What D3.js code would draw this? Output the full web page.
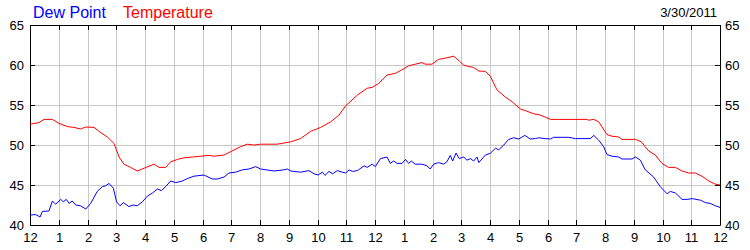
<!DOCTYPE html>
<html>
<head>
<meta charset="utf-8">
<script src="https://cdn.jsdelivr.net/npm/d3@7"></script>
<style>
  body { margin: 0; background: #fff; }
  svg { display: block; }
  text { font-family: "Liberation Sans", Arial, sans-serif; }
</style>
</head>
<body>
<div id="chart"></div>
<script>
// hours since midnight
var tempHours = [0,0.31,0.49,0.78,1.01,1.30,1.53,1.76,1.94,2.23,2.40,2.69,2.92,3.10,3.27,3.50,3.73,3.97,4.31,4.49,4.72,4.89,5.13,5.36,5.65,5.94,6.23,6.40,6.75,7.00,7.33,7.56,7.79,8.02,8.60,9.07,9.41,9.76,10.11,10.46,10.75,10.98,11.39,11.73,
  11.90,12.13,12.42,12.71,12.94,13.17,13.40,13.63,13.75,13.98,14.21,14.50,14.74,14.93,15.08,15.26,15.43,15.61,15.84,16.01,16.24,16.53,16.77,17.06,17.23,17.52,17.70,17.92,18.10,18.39,18.85,19.37,19.43,19.61,19.78,20.07,20.24,20.48,20.59,21.06,21.26,21.52,21.75,21.98,22.21,22.45,22.68,22.91,23.14,23.37,23.61,23.84,24.00];
var tempValues = [52.6,52.8,53.2,53.2,52.7,52.3,52.2,52.0,52.25,52.2,51.7,51.0,50.2,48.5,47.6,47.2,46.75,47.1,47.6,47.2,47.2,47.9,48.2,48.4,48.5,48.6,48.7,48.6,48.75,49.2,49.8,50.1,50.0,50.1,50.1,50.4,50.8,51.7,52.2,52.9,53.75,54.9,56.25,57.1,
  57.2,57.7,58.75,58.96,59.4,59.9,60.1,60.3,60.1,60.1,60.7,60.9,61.1,60.5,60.0,59.8,59.7,59.25,59.2,58.6,56.9,56.0,55.4,54.5,54.3,53.9,53.8,53.5,53.2,53.2,53.2,53.2,53.1,53.2,52.9,51.3,51.1,51.0,50.7,50.7,50.4,49.25,48.75,47.7,47.2,47.2,46.75,46.5,46.5,46.1,45.5,45.1,45.0];

var dewHours = [0,0.20,0.35,0.43,0.66,0.78,0.89,1.07,1.16,1.26,1.36,1.47,1.59,1.76,1.94,2.11,2.34,2.52,2.63,2.75,2.90,3.01,3.13,3.25,3.44,3.59,3.73,3.91,4.08,4.26,4.43,4.57,4.72,4.89,5.07,5.30,5.47,5.70,6.05,6.34,6.52,6.75,6.92,7.15,7.39,7.62,7.85,8.02,8.49,8.84,8.95,9.07,9.41,9.70,9.88,10.02,10.17,10.26,10.40,10.52,10.69,10.86,10.98,11.10,11.21,11.39,11.62,11.73,
  11.90,12.01,12.19,12.42,12.53,12.65,12.77,12.94,13.06,13.17,13.26,13.40,13.63,13.81,13.92,14.04,14.21,14.39,14.50,14.62,14.70,14.82,14.93,15.08,15.20,15.32,15.43,15.55,15.61,15.72,15.84,16.01,16.19,16.30,16.48,16.65,16.82,17.00,17.21,17.40,17.58,17.69,17.92,18.10,18.21,18.74,18.97,19.49,19.61,19.78,19.95,20.07,20.24,20.48,20.59,20.94,21.06,21.23,21.40,21.69,21.92,22.16,22.27,22.45,22.68,22.85,23.03,23.32,23.49,23.66,23.84,24.00];
var dewValues = [41.25,41.3,41.0,41.7,41.75,43.0,42.6,43.2,42.9,43.2,42.7,43.0,42.5,42.4,42.0,42.7,44.2,44.8,44.9,45.2,44.6,42.9,42.4,42.8,42.3,42.5,42.4,42.9,43.6,44.0,44.5,44.3,44.8,45.5,45.3,45.5,45.8,46.1,46.25,45.75,45.75,46.0,46.5,46.6,46.9,47.0,47.3,47.0,46.75,46.9,47.0,46.75,46.6,46.8,46.4,46.25,46.6,46.2,46.7,46.4,46.8,46.6,46.5,46.9,46.7,46.8,47.4,47.2,
  47.6,47.3,48.3,48.5,47.7,48.0,47.7,47.7,48.2,47.7,48.0,47.6,47.6,47.4,47.0,47.6,47.8,47.6,47.9,48.7,48.0,49.0,48.3,48.5,48.1,48.3,48.0,48.5,47.8,48.25,48.75,48.96,49.6,49.4,50.0,50.7,50.9,50.75,51.2,50.75,50.8,50.9,50.8,50.75,50.96,50.96,50.8,50.8,51.2,50.6,49.8,48.8,48.6,48.5,48.25,48.25,48.5,48.1,46.9,46.0,44.8,43.9,44.2,44.0,43.2,43.2,43.3,43.1,42.8,42.7,42.4,42.2];

var hourTicks  = d3.range(0, 25);
var hourLabels = ["12","1","2","3","4","5","6","7","8","9","10","11","12","1","2","3","4","5","6","7","8","9","10","11","12"];
var yTicks     = [40, 45, 50, 55, 60, 65];
var dateLabel  = "3/30/2011";

var width  = 750;
var height = 250;
var plotLeft = 30, plotRight = 720, plotTop = 25, plotBottom = 225;

var svg = d3.select("#chart")
    .append("svg")
    .attr("width", width)
    .attr("height", height);

var x = d3.scaleLinear().domain([0, 24]).range([plotLeft, plotRight]);
var y = d3.scaleLinear().domain([40, 65]).range([plotBottom, plotTop]);
// rounded copies so grid and ticks land on whole pixels
var xr = x.copy().interpolate(d3.interpolateRound);
var yr = y.copy().interpolate(d3.interpolateRound);

// grid
svg.append("g").selectAll("line")
    .data(hourTicks)
    .enter().append("line")
    .attr("x1", function(d) { return xr(d) + 0.5; })
    .attr("x2", function(d) { return xr(d) + 0.5; })
    .attr("y1", plotTop).attr("y2", plotBottom)
    .attr("stroke", "#c8c8c8");

svg.append("g").selectAll("line")
    .data(yTicks)
    .enter().append("line")
    .attr("y1", function(d) { return yr(d) + 0.5; })
    .attr("y2", function(d) { return yr(d) + 0.5; })
    .attr("x1", plotLeft).attr("x2", plotRight)
    .attr("stroke", "#c8c8c8");

// axes, ticks pointing inside
function styleAxis(g) {
  g.select(".domain").attr("stroke", "#000");
  g.selectAll(".tick line").attr("stroke", "#000");
  g.selectAll("text")
    .attr("fill", "#000")
    .style("font-size", "13px")
    .style("font-family", '"Liberation Sans", Arial, sans-serif');
}

svg.append("g")
    .attr("transform", "translate(0," + plotBottom + ")")
    .call(d3.axisBottom(xr).tickValues(hourTicks)
      .tickFormat(function(d, i) { return hourLabels[i]; })
      .tickSizeInner(-5).tickSizeOuter(0).tickPadding(8))
    .call(styleAxis);

svg.append("g")
    .attr("transform", "translate(0," + plotTop + ")")
    .call(d3.axisTop(xr).tickValues(hourTicks).tickFormat("")
      .tickSizeInner(-5).tickSizeOuter(0))
    .call(styleAxis);

svg.append("g")
    .attr("transform", "translate(" + plotLeft + ",0)")
    .call(d3.axisLeft(yr).tickValues(yTicks)
      .tickSizeInner(-5).tickSizeOuter(0).tickPadding(6))
    .call(styleAxis);

svg.append("g")
    .attr("transform", "translate(" + plotRight + ",0)")
    .call(d3.axisRight(yr).tickValues(yTicks)
      .tickSizeInner(-5).tickSizeOuter(0).tickPadding(5))
    .call(styleAxis);

// series
var line = d3.line()
    .x(function(d) { return x(d[0]); })
    .y(function(d) { return y(d[1]); });

svg.append("path")
    .datum(d3.zip(tempHours, tempValues))
    .attr("d", line)
    .attr("fill", "none")
    .attr("stroke", "#ff0000")
    .attr("stroke-width", 1);

svg.append("path")
    .datum(d3.zip(dewHours, dewValues))
    .attr("d", line)
    .attr("fill", "none")
    .attr("stroke", "#0000ff")
    .attr("stroke-width", 1);

// legend + date
svg.append("text")
    .attr("x", 33).attr("y", 18)
    .attr("fill", "#0000ff")
    .style("font-size", "16px")
    .text("Dew Point");

svg.append("text")
    .attr("x", 123).attr("y", 18)
    .attr("fill", "#ff0000")
    .style("font-size", "16px")
    .text("Temperature");

svg.append("text")
    .attr("x", 717).attr("y", 17)
    .attr("text-anchor", "end")
    .attr("fill", "#000")
    .style("font-size", "13px")
    .text(dateLabel);
</script>
</body>
</html>
